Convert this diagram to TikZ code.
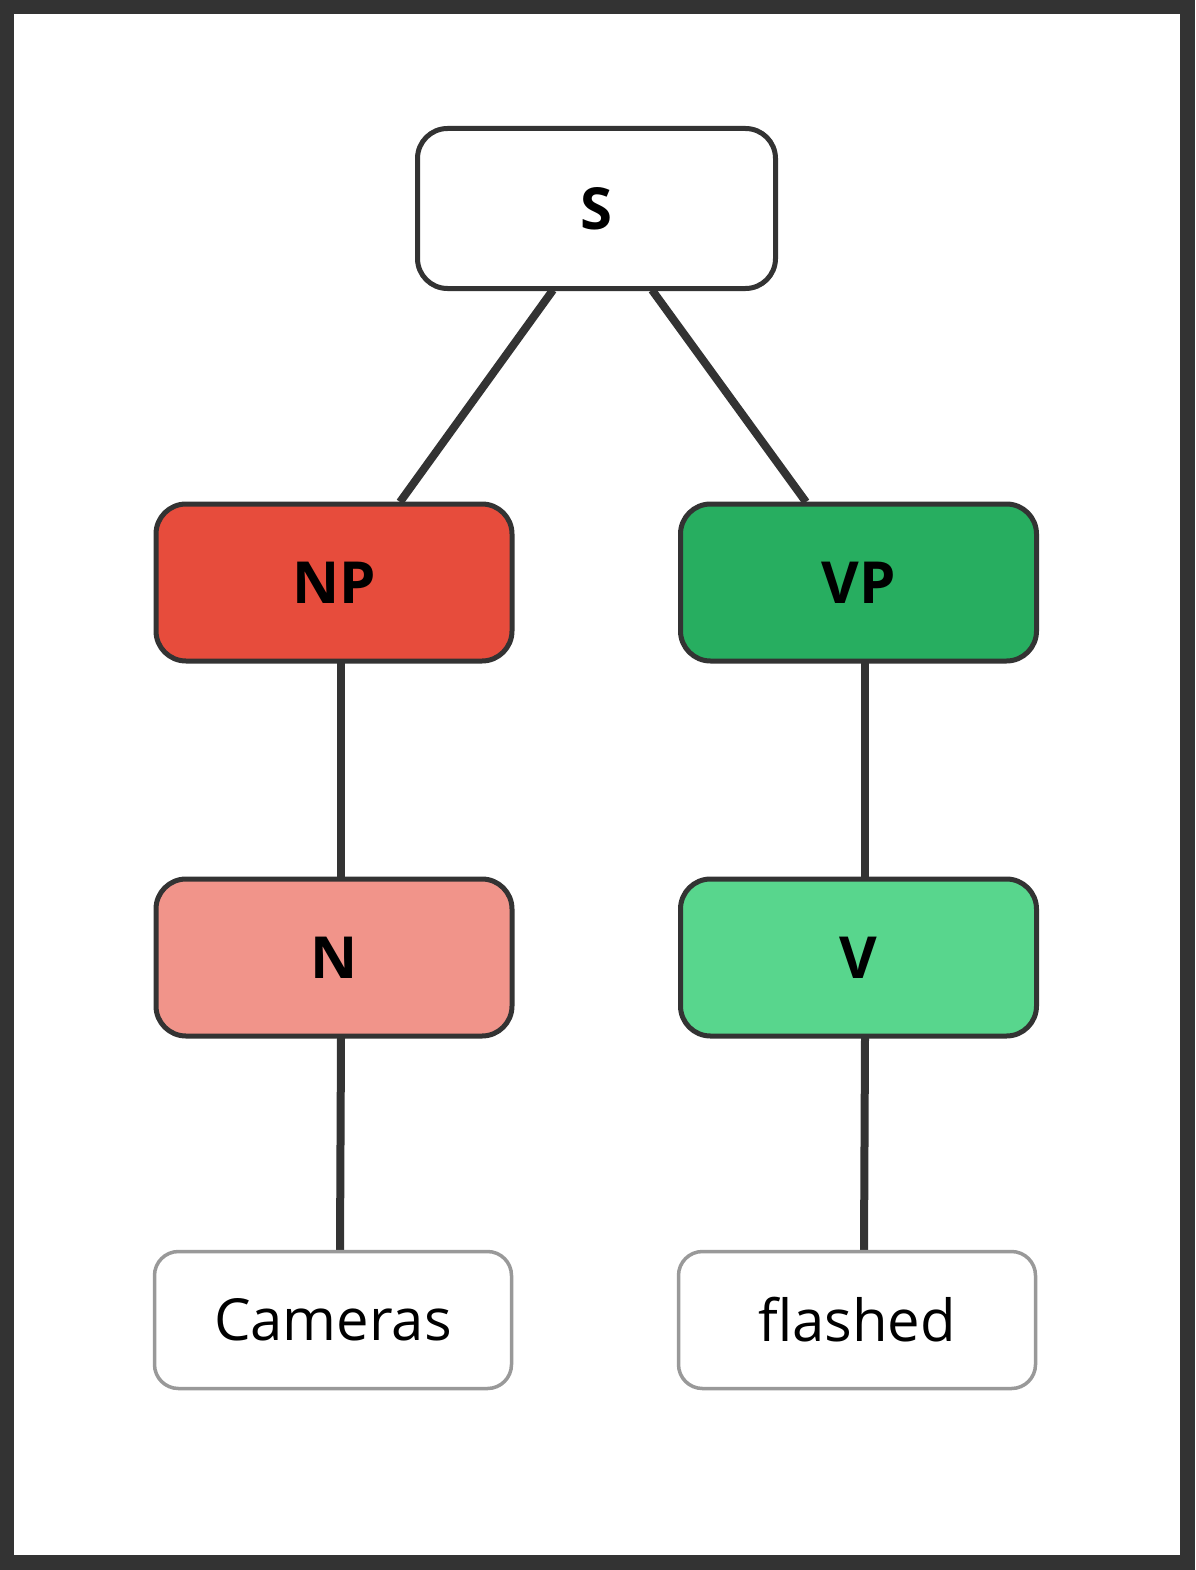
\documentclass[tikz,border=0pt]{standalone}
\usepackage{fontspec}
\setmainfont{Open Sans}
\begin{document}
\begin{tikzpicture}[x=1pt,y=-1pt,
  box/.style={draw=black!80,line width=5pt,rounded corners=30pt,minimum width=356pt,minimum height=157pt,font=\fontsize{58}{60}\selectfont\bfseries,inner sep=0pt},
  leaf/.style={draw=black!40,line width=3.5pt,rounded corners=24pt,minimum width=357pt,minimum height=137pt,font=\fontsize{58}{60}\selectfont,inner sep=0pt,fill=white},
  edge/.style={draw=black!80,line width=8pt}]
\fill[black!80] (0,0) rectangle (1195,1570);
\fill[white] (14,14) rectangle (1180,1555);
\useasboundingbox (0,0) rectangle (1195,1570);
\draw[edge] (553,290) -- (400,502);
\draw[edge] (652,290) -- (806,502);
\draw[edge] (341,663) -- (341,877);
\draw[edge] (865,663) -- (865,877);
\draw[edge] (341,1038) -- (340,1250);
\draw[edge] (865,1038) -- (864,1250);
\node[box,fill=white,minimum width=358pt,minimum height=160pt] (S) at (596.5,208.5) {S};
\node[box,fill={rgb,255:red,231;green,76;blue,60}] (NP) at (334,582.5) {NP};
\node[box,fill={rgb,255:red,39;green,174;blue,96}] (VP) at (858.5,582.5) {VP};
\node[box,fill={rgb,255:red,241;green,148;blue,138}] (N) at (334,957.5) {N};
\node[box,fill={rgb,255:red,88;green,214;blue,141}] (V) at (858.5,957.5) {V};
\node[leaf] (C) at (333,1320) {Cameras};
\node[leaf] (F) at (857,1320) {flashed};
\end{tikzpicture}
\end{document}
